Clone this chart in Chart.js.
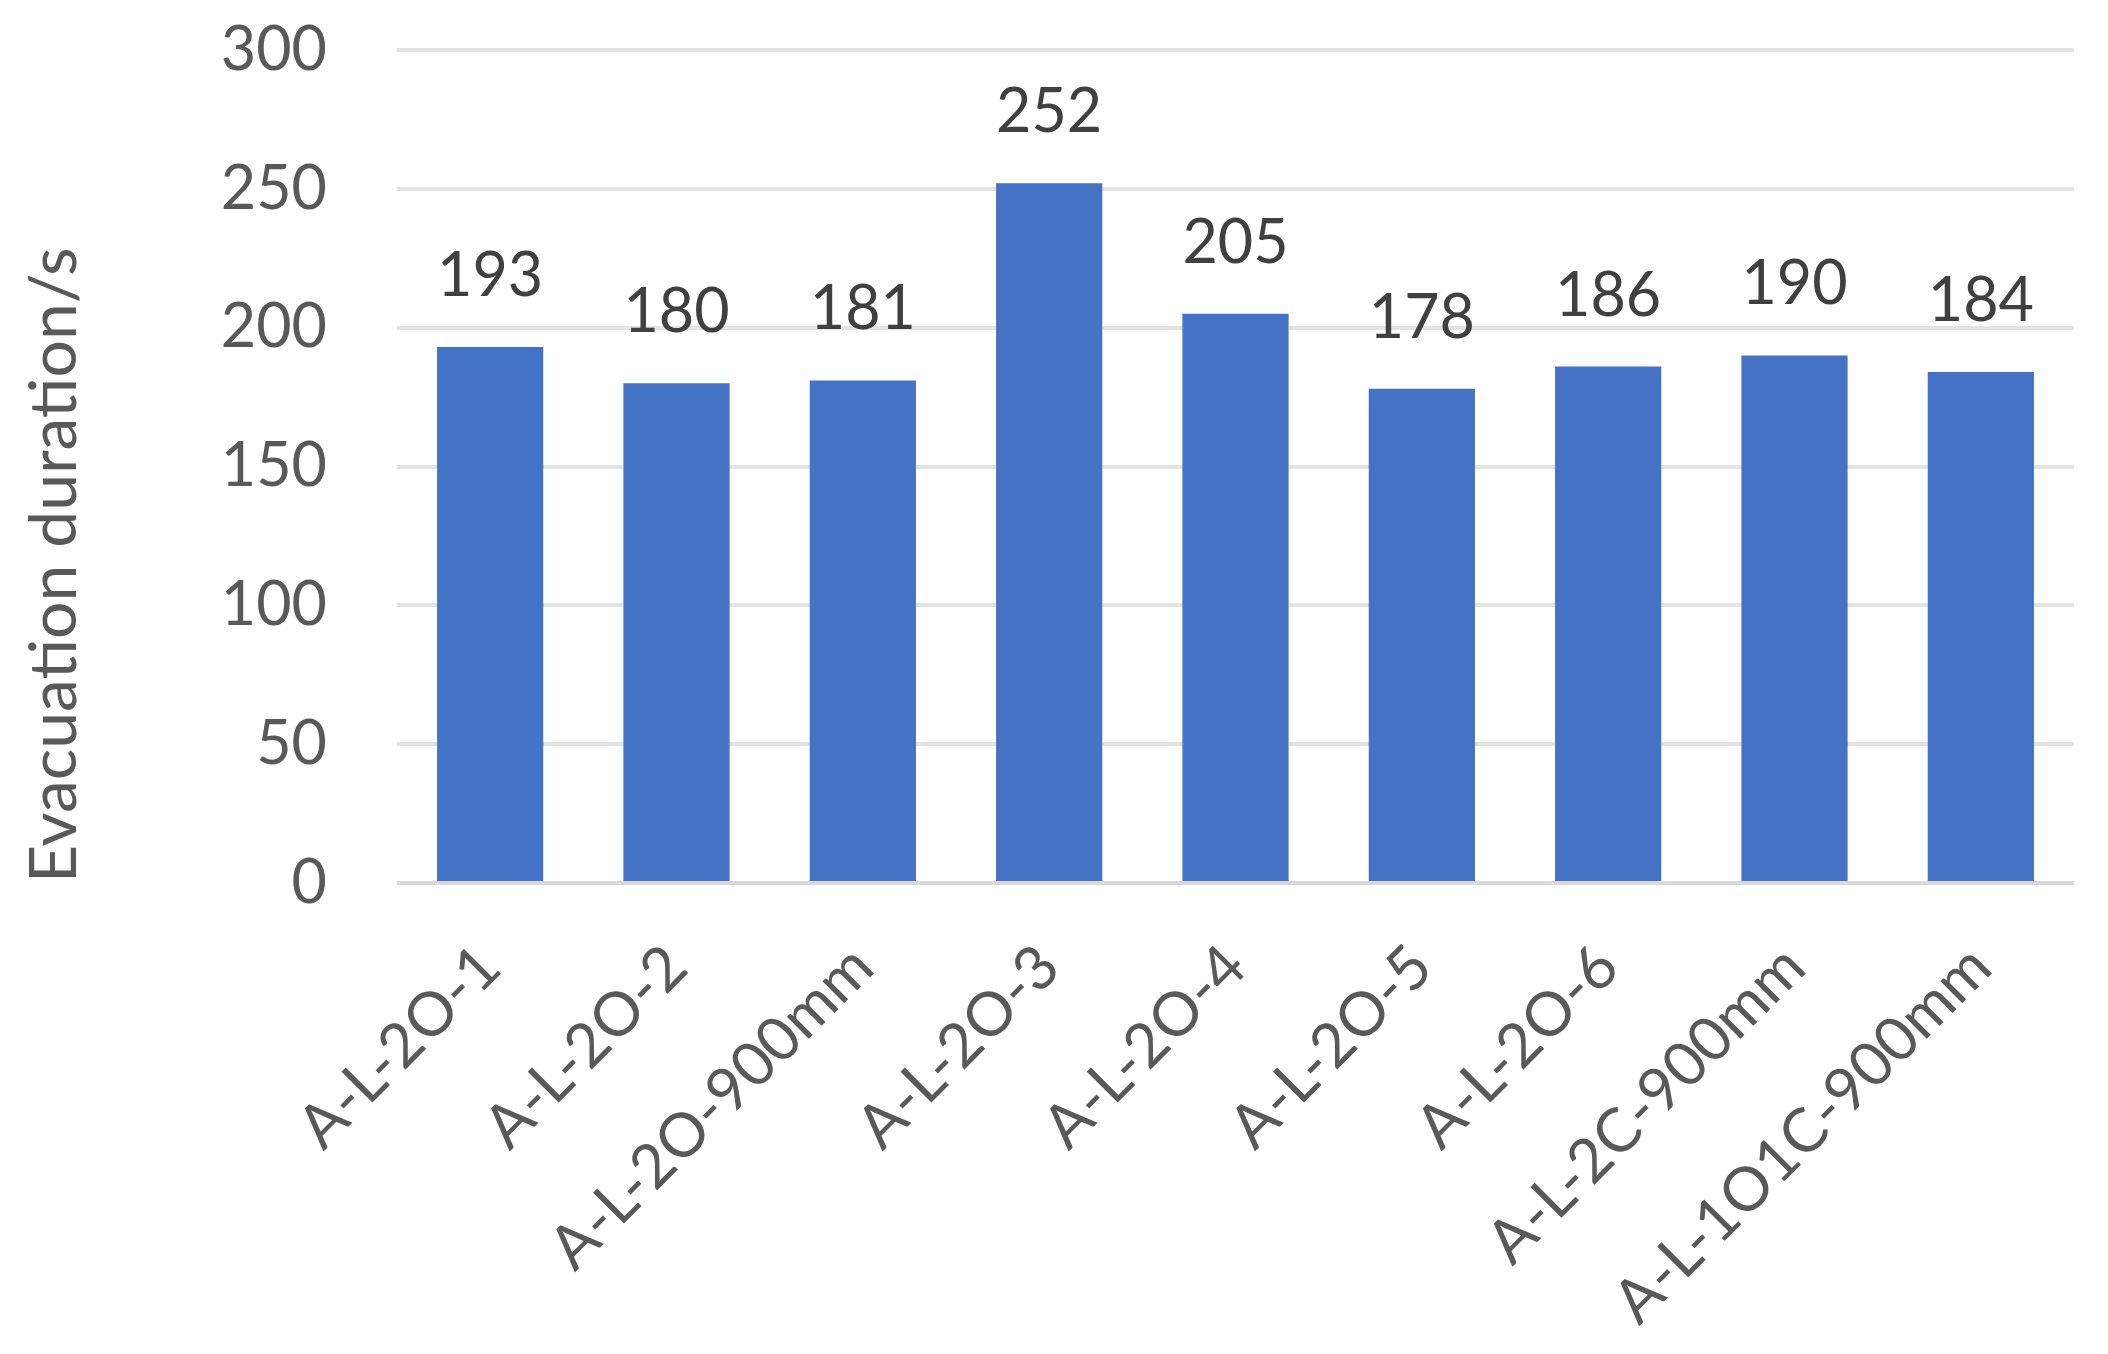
<!DOCTYPE html>
<html>
<head>
<meta charset="utf-8">
<script src="https://cdn.jsdelivr.net/npm/chart.js@4.4.1/dist/chart.umd.min.js"></script>
<style>
  html, body { margin: 0; padding: 0; background: #ffffff; }
  #wrap { width: 2108px; height: 1354px; }
</style>
</head>
<body>
<div id="wrap"><canvas id="durationChart" width="2108" height="1354"></canvas></div>
<script>
const categories = ['A-L-2O-1', 'A-L-2O-2', 'A-L-2O-900mm', 'A-L-2O-3', 'A-L-2O-4', 'A-L-2O-5', 'A-L-2O-6', 'A-L-2C-900mm', 'A-L-1O1C-900mm'];
const durations = [193, 180, 181, 252, 205, 178, 186, 190, 184];
const yTicks = [0, 50, 100, 150, 200, 250, 300];
const yTitle = 'Evacuation duration/s';

const FONT = 'Lato, "Liberation Sans", sans-serif';

// draws the value above every bar (no datalabels plugin available)
const valueLabels = {
    id: 'valueLabels',
    afterDatasetsDraw(chart) {
        const ctx = chart.ctx;
        const meta = chart.getDatasetMeta(0);
        ctx.save();
        ctx.font = '61px ' + FONT;
        ctx.fillStyle = '#404040';
        ctx.textAlign = 'center';
        ctx.textBaseline = 'alphabetic';
        meta.data.forEach((bar, i) => {
            ctx.fillText(String(durations[i]), bar.x, bar.y - 51);
        });
        ctx.restore();
    }
};

const whiteBg = {
    id: 'whiteBg',
    beforeDraw(chart) {
        const ctx = chart.ctx;
        ctx.save();
        ctx.fillStyle = '#ffffff';
        ctx.fillRect(0, 0, chart.width, chart.height);
        ctx.restore();
    }
};

document.addEventListener('DOMContentLoaded', function () {
    const el = document.getElementById('durationChart');
    new Chart(el, {
        type: 'bar',
        data: {
            labels: categories,
            datasets: [{
                data: durations,
                backgroundColor: '#4472C4',
                borderWidth: 0,
                barPercentage: 0.57,
                categoryPercentage: 1.0
            }]
        },
        options: {
            responsive: false,
            animation: false,
            layout: {
                padding: { top: 0, right: 34, bottom: 0, left: 0 }
            },
            plugins: {
                legend: { display: false },
                tooltip: { enabled: false }
            },
            scales: {
                x: {
                    grid: { display: false, drawTicks: false },
                    border: { display: false },
                    ticks: {
                        color: '#595959',
                        font: { family: FONT, size: 61 },
                        minRotation: 45,
                        maxRotation: 45,
                        autoSkip: false,
                        padding: 48
                    },
                    afterFit(scale) { scale.height = 1354 - 883; }
                },
                y: {
                    min: 0,
                    max: 300,
                    afterBuildTicks(scale) {
                        scale.ticks = yTicks.map(v => ({ value: v }));
                    },
                    grid: {
                        drawTicks: false,
                        lineWidth: 4,
                        color: c => (c.tick && c.tick.value === 0) ? '#d9d9d9' : '#e3e3e3'
                    },
                    border: { display: false },
                    ticks: {
                        color: '#595959',
                        font: { family: FONT, size: 61 },
                        padding: 70
                    },
                    title: {
                        display: true,
                        text: yTitle,
                        color: '#595959',
                        font: { family: FONT, size: 66, weight: 'normal' },
                        align: 'start',
                        padding: { top: 15, bottom: 0 }
                    },
                    afterFit(scale) {
                        scale.width = 397;
                        // tick padding would otherwise push the plot top down
                        scale.paddingTop = 50;
                        scale.paddingBottom = 0;
                    }
                }
            }
        },
        plugins: [whiteBg, valueLabels]
    });
});
</script>
</body>
</html>
